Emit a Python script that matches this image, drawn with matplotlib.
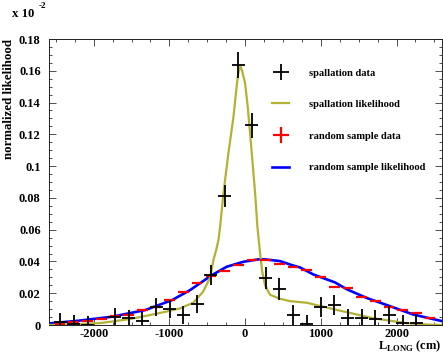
import numpy as np
import matplotlib
matplotlib.use("Agg")
import matplotlib.pyplot as plt
from matplotlib.lines import Line2D
from matplotlib.ticker import FixedLocator, FixedFormatter, MultipleLocator
from matplotlib.font_manager import FontProperties

# ---------------- data ----------------
bin_edges_cm = np.linspace(-2534, 2534, 29)          # 28 bins

spallation_data = [0.0021, 0.0006, 0.0000, None, 0.0052, 0.0042, 0.0025,
                   0.0115, 0.0102, 0.0063, 0.0132, 0.0314, 0.0813, 0.1635,
                   0.1258, 0.0294, 0.0225, 0.0063, 0.0005, 0.0115, 0.0126,
                   0.0042, 0.0042, 0.0036, 0.0063, 0.0011, 0.0011, None]
spallation_err = [0.0055, 0.0055, 0.0055, None, 0.0055, 0.0055, 0.0055,
                  0.0058, 0.0058, 0.0055, 0.0058, 0.0063, 0.0068, 0.0081,
                  0.0078, 0.0068, 0.0068, 0.0065, 0.0055, 0.0063, 0.0060,
                  0.0058, 0.0058, 0.0058, 0.0058, 0.0055, 0.0055, None]

random_data = [0.0009, 0.0019, 0.0028, 0.0039, 0.0054, 0.0066, 0.0094,
               0.0113, 0.0155, 0.0206, 0.0262, 0.0310, 0.0342, 0.0377,
               0.0409, 0.0409, 0.0382, 0.0367, 0.0346, 0.0304, 0.0241,
               0.0231, 0.0176, 0.0151, 0.0115, 0.0094, 0.0074, 0.0045]
random_err = [0.0006] * 28

spall_like_x = [-2586, -2375, -1913, -1755, -1517, -1253, -1055, -858, -686,
                -554, -462, -418, -383, -352, -330, -286, -224, -154, -112,
                -92, -73, -59, -40, 0, 33, 66, 132, 162, 198, 224, 264, 330,
                462, 594, 814, 989, 1253, 1689, 2137, 2441, 2599]
spall_like_y = [0.0, 0.0002, 0.0012, 0.0022, 0.0038, 0.0063, 0.0083, 0.0105,
                0.0140, 0.0210, 0.0300, 0.0410, 0.0470, 0.0535, 0.0620,
                0.0830, 0.1070, 0.1310, 0.1500, 0.1580, 0.1620, 0.1625,
                0.1600, 0.1520, 0.1380, 0.1205, 0.0830, 0.0620, 0.0450,
                0.0340, 0.0250, 0.0190, 0.0165, 0.0150, 0.0140, 0.0120,
                0.0090, 0.0043, 0.0011, 0.0002, 0.0]

rand_like_x = [-2586, -2199, -1759, -1319, -963, -726, -439, -241, -22, 175,
               264, 462, 616, 726, 901, 1187, 1342, 1606, 1869, 2220, 2595]
rand_like_y = [0.0010, 0.0027, 0.0052, 0.0094, 0.0157, 0.0220, 0.0314,
               0.0367, 0.0398, 0.0413, 0.0413, 0.0402, 0.0377, 0.0362,
               0.0318, 0.0268, 0.0225, 0.0170, 0.0126, 0.0066, 0.0025]

x_ticks = [-2000, -1000, 0, 1000, 2000]
x_tick_labels = ["-2000", "-1000", "0", "1000", "2000"]
y_ticks = [0, 0.02, 0.04, 0.06, 0.08, 0.10, 0.12, 0.14, 0.16, 0.18]
y_tick_labels = ["0", "0.02", "0.04", "0.06", "0.08", "0.1", "0.12",
                 "0.14", "0.16", "0.18"]
legend_labels = ["spallation data", "spallation likelihood",
                 "random sample data", "random sample likelihood"]

# ---------------- style ----------------
plt.rcParams["font.family"] = ["Liberation Serif", "DejaVu Serif"]
plt.rcParams["font.weight"] = "bold"
plt.rcParams["mathtext.fontset"] = "custom"
plt.rcParams["mathtext.bf"] = "Liberation Serif:bold"
plt.rcParams["mathtext.rm"] = "Liberation Serif:bold"

OLIVE = "#b4b234"
W, H = 443, 353
fig = plt.figure(figsize=(W / 100, H / 100), dpi=100)
ax = fig.add_axes([49 / W, 28 / H, 393 / W, 286 / H])

centers = 0.5 * (bin_edges_cm[:-1] + bin_edges_cm[1:])
half = 0.5 * np.diff(bin_edges_cm)

ax.plot(rand_like_x, rand_like_y, color="#0000ff", lw=1.9, zorder=2)
ax.plot(spall_like_x, spall_like_y, color=OLIVE, lw=1.6, zorder=3)

ax.errorbar(centers, random_data, xerr=half * 0.78, yerr=random_err,
            fmt="none", ecolor="#ff0000", elinewidth=1.6, capsize=0, zorder=4)

mask = [v is not None for v in spallation_data]
sx = centers[mask]
sy = [v for v in spallation_data if v is not None]
se = [v for v in spallation_err if v is not None]
ax.errorbar(sx, sy, xerr=half[mask] * 0.95, yerr=se, fmt="none",
            ecolor="black", elinewidth=1.3, capsize=0, zorder=5)

ax.set_xlim(-2590, 2600)
ax.set_ylim(0, 0.18)

ax.xaxis.set_major_locator(FixedLocator(x_ticks))
ax.xaxis.set_major_formatter(FixedFormatter(x_tick_labels))
ax.xaxis.set_minor_locator(MultipleLocator(250))
ax.yaxis.set_major_locator(FixedLocator(y_ticks))
ax.yaxis.set_major_formatter(FixedFormatter(y_tick_labels))
ax.yaxis.set_minor_locator(MultipleLocator(0.005))

ax.tick_params(which="both", direction="in", top=True, right=True,
               width=0.6, color="#333333")
ax.tick_params(which="major", length=5)
ax.tick_params(which="minor", length=2.5)
ax.tick_params(axis="y", which="major", pad=6, labelsize=9)
ax.tick_params(axis="x", which="major", pad=2, labelsize=9)
for lab in ax.get_xticklabels() + ax.get_yticklabels():
    lab.set_fontweight("bold")
for s in ax.spines.values():
    s.set_linewidth(0.7)
    s.set_color("#222222")

handles = [
    Line2D([], [], color="black", marker="+", ms=12, mew=1.3, ls="none"),
    Line2D([], [], color=OLIVE, lw=1.6),
    Line2D([], [], color="#ff0000", marker="+", ms=12, mew=1.6, ls="none"),
    Line2D([], [], color="#0000ff", lw=1.9),
]
ax.legend(handles, legend_labels, loc="upper left",
          bbox_to_anchor=(0.568, 0.898), frameon=False,
          prop=FontProperties(family="Liberation Serif", weight="bold", size=7.6),
          handlelength=1.6, handletextpad=1.9, labelspacing=2.1,
          borderaxespad=0, borderpad=0)

fig.text(9 / W, 1 - 39 / H, "normalized likelihood", rotation=90,
         ha="center", va="top", fontsize=9.3, fontweight="bold")
fig.text(12 / W, 1 - 17 / H, "x 10", ha="left", va="baseline",
         fontsize=9.2, fontweight="bold")
fig.text(39 / W, 1 - 8 / H, "-2", ha="left", va="baseline",
         fontsize=6.5, fontweight="bold")
fig.text(441 / W, 1 - 349 / H, r"$\mathbf{L}_{\mathbf{LONG}}$ (cm)",
         ha="right", va="baseline", fontsize=9, fontweight="bold")

fig.savefig("out.png", dpi=100)
